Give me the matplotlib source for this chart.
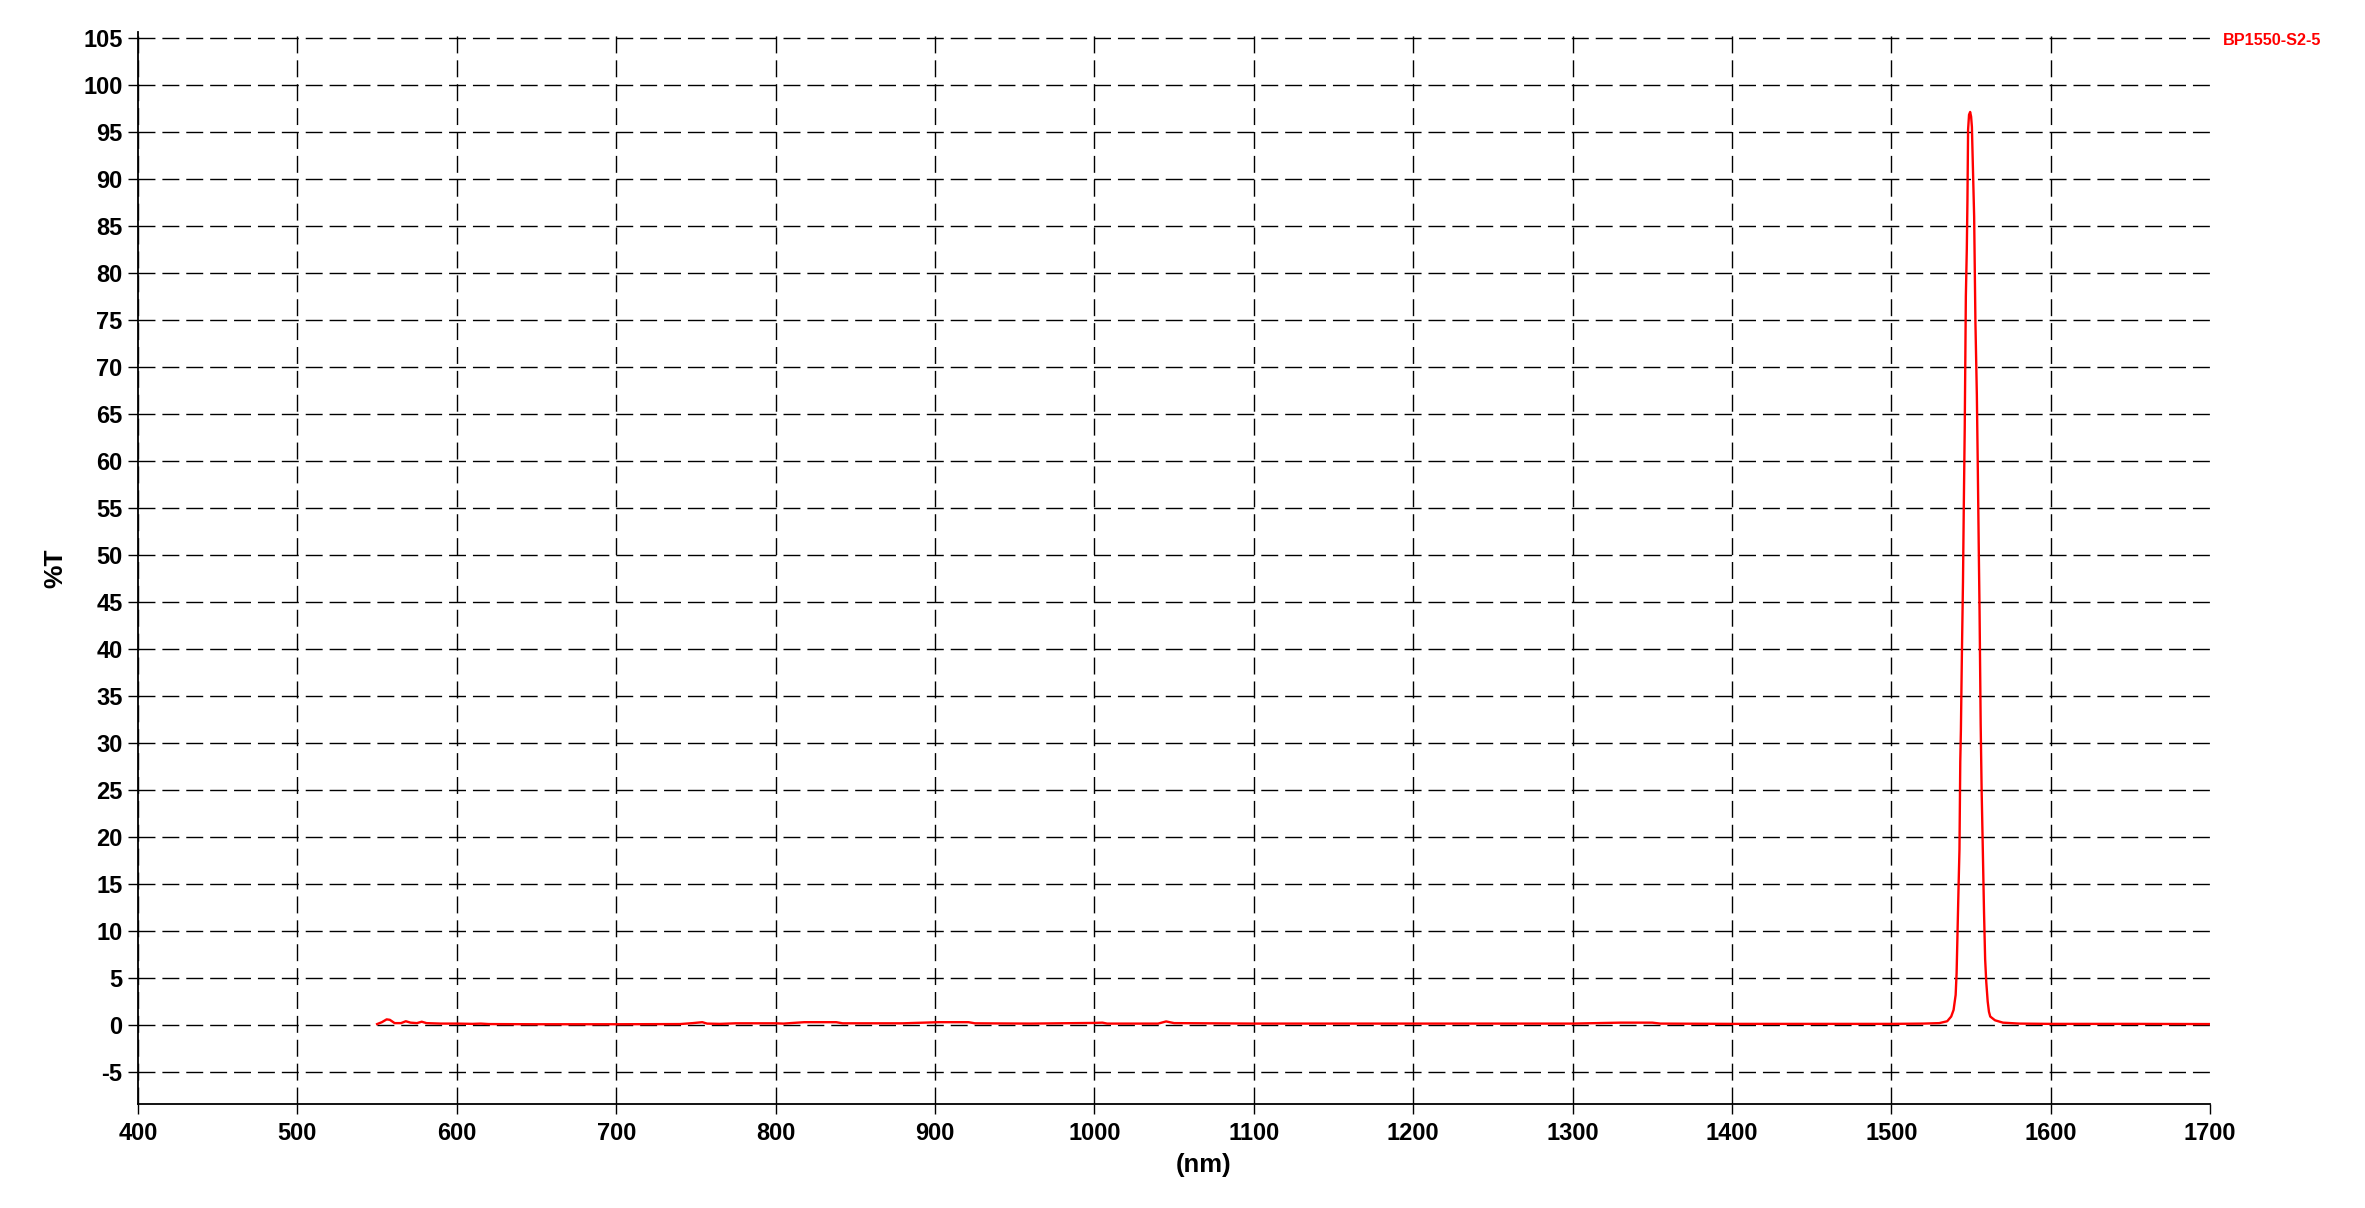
import numpy as np
import matplotlib
matplotlib.use("Agg")
import matplotlib.pyplot as plt

# transmission curve (nm, %T)
wavelength = [550, 553, 556, 558, 561, 565, 568, 571, 575, 578, 581, 590, 600, 610, 615, 620,
              650, 700, 740, 748, 754, 757, 765, 775, 800, 805, 818, 838, 842, 880, 902, 921,
              925, 960, 1000, 1005, 1008, 1040, 1045, 1050, 1100, 1200, 1300, 1330, 1350, 1355,
              1400, 1450, 1500, 1520, 1530, 1535, 1537.5, 1539, 1540.3, 1540.9, 1541.5, 1542.1,
              1542.7, 1543.2, 1543.6, 1544.2, 1544.9, 1545.4, 1546.0, 1546.7, 1547.3, 1547.7,
              1548.1, 1548.7, 1549.4, 1550.0, 1550.5, 1550.8, 1551.9, 1552.7, 1553.6, 1554.2,
              1554.8, 1555.3, 1556.0, 1556.6, 1557.3, 1558.1, 1558.8, 1559.5, 1560.4, 1561.2,
              1562.0, 1565, 1570, 1580, 1600, 1650, 1700]
transmission = [0.1, 0.3, 0.6, 0.55, 0.2, 0.2, 0.4, 0.25, 0.2, 0.35, 0.2, 0.15, 0.15, 0.12, 0.15, 0.1,
                0.08, 0.08, 0.1, 0.2, 0.3, 0.15, 0.12, 0.18, 0.18, 0.15, 0.3, 0.3, 0.18, 0.18, 0.3, 0.3,
                0.18, 0.15, 0.22, 0.25, 0.15, 0.15, 0.38, 0.2, 0.15, 0.15, 0.15, 0.25, 0.25, 0.15,
                0.12, 0.12, 0.12, 0.15, 0.2, 0.4, 0.9, 1.6, 3.2, 5.5, 10.0, 14.5,
                18.7, 28.0, 31.4, 39.2, 47.1, 55.0, 63.5, 77.5, 82.5, 87.7,
                95.2, 96.8, 97.1, 96.6, 95.5, 93.4, 86.0, 74.8, 67.0, 59.2,
                50.7, 44.0, 32.0, 25.0, 19.0, 12.0, 7.0, 4.6, 2.5, 1.4,
                0.9, 0.5, 0.25, 0.15, 0.12, 0.12, 0.1]

sample_name = 'BP1550-S2-5'
x_ticks = np.arange(400, 1701, 100)
y_ticks = np.arange(-5, 106, 5)

plt.rcParams['font.family'] = ['Liberation Sans', 'DejaVu Sans']
plt.rcParams['font.weight'] = 'bold'
plt.rcParams['axes.unicode_minus'] = False

fig = plt.figure(figsize=(23.65, 12.08), dpi=100)
ax = fig.add_axes([0.05835, 0.0861, 0.8762, 0.8874])

ax.plot(wavelength, transmission, color='#ff0000', linewidth=1.7, zorder=3)

ax.set_xlim(400, 1700)
ax.set_ylim(-8.4, 105.6)
ax.set_xticks(x_ticks)
ax.set_yticks(y_ticks)
ax.tick_params(direction='out', length=7.2, width=1, color='black', labelsize=17, pad=4)
ax.tick_params(axis='x', pad=6)

# dashed black grid like the spectrophotometer printout
ax.grid(True, color='black', linewidth=1.0, linestyle=(0, (12.2, 5.0)), zorder=1)
ax.xaxis.get_gridlines()[-1].set_visible(False)

for side in ['top', 'right']:
    ax.spines[side].set_visible(False)
for side in ['left', 'bottom']:
    ax.spines[side].set_linewidth(1.3)

ax.set_xlabel('(nm)', fontsize=18.5, fontweight='bold')
ax.xaxis.set_label_coords(0.514, -0.046)
ax.set_ylabel('%T', fontsize=19, fontweight='bold')
ax.yaxis.set_label_coords(-0.034, 0.5)

fig.text(0.940, 0.9663, sample_name, color='#ff0000', fontsize=11.7, fontweight='bold',
         ha='left', va='center')

fig.savefig('out.png', dpi=100)
